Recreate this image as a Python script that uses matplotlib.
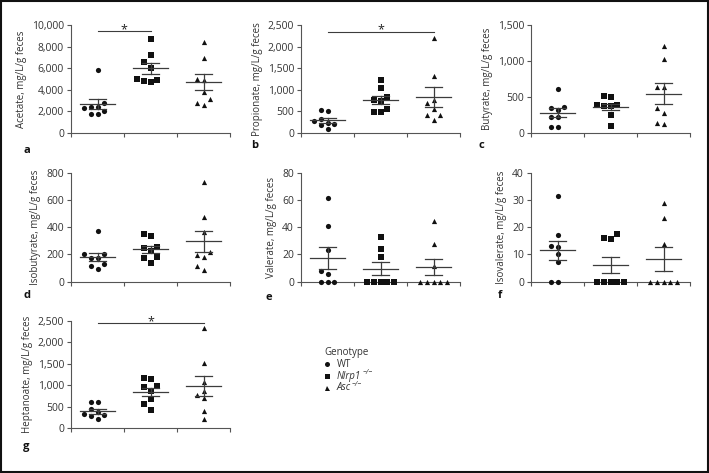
import numpy as np
import matplotlib
matplotlib.use("Agg")
import matplotlib.pyplot as plt
from matplotlib.lines import Line2D
from matplotlib.patches import Rectangle
from matplotlib.ticker import FuncFormatter, MultipleLocator

plt.rcParams['font.family'] = ['Open Sans', 'DejaVu Sans']
plt.rcParams['font.size'] = 7

# values, order: WT, Nlrp1-/-, Asc-/-
acetate = [[5800, 2450, 2400, 2740, 2280, 2030, 1750, 1750],
           [8740, 7230, 6550, 6000, 4890, 4740, 4800, 5015],
           [8400, 6950, 4900, 5000, 3800, 3150, 2600, 2750]]
propionate = [[515, 540, 330, 270, 230, 200, 180, 90],
              [1230, 1040, 770, 830, 750, 555, 477, 477],
              [2210, 1310, 770, 690, 420, 420, 290, 560]]
butyrate = [[609, 360, 323, 341, 221, 221, 88, 88],
            [508, 494, 388, 378, 378, 392, 254, 102],
            [1209, 1034, 632, 632, 346, 272, 125, 138]]
isobutyrate = [[374, 203, 200, 171, 171, 127, 117, 90],
               [350, 333, 249, 252, 222, 183, 174, 139],
               [729, 474, 364, 193, 183, 218, 117, 86]]
valerate = [[61.3, 40.4, 22.9, 7.6, 5.7, 0, 0, 0],
            [32.8, 23.6, 18.2, 0, 0, 0, 0, 0],
            [44.6, 27.8, 11.6, 0, 0, 0, 0, 0]]
isovalerate = [[31.3, 17.1, 13.0, 12.7, 10.2, 7.3, 0, 0],
               [16.0, 15.6, 17.5, 0, 0, 0, 0, 0],
               [28.7, 23.4, 13.9, 0, 0, 0, 0, 0]]
heptanoate = [[604, 619, 441, 364, 333, 294, 271, 209],
              [1176, 1138, 975, 952, 875, 689, 550, 426],
              [2337, 1517, 1076, 875, 774, 704, 395, 217]]

# legend: base name, italic?, superscript
genotypes = [('WT', False, ''), ('Nlrp1', True, '\u2212/\u2212'), ('Asc', True, '\u2212/\u2212')]
markers = ['o', 's', '^']

# (letter, label, data, ymax, tick step, significance bar (from, to, y))
panels = [
    ('a', 'Acetate, mg/L/g feces', acetate, 10000, 2000, (0, 1, 9400)),
    ('b', 'Propionate, mg/L/g feces', propionate, 2500, 500, (0, 2, 2346)),
    ('c', 'Butyrate, mg/L/g feces', butyrate, 1500, 500, None),
    ('d', 'Isobutyrate, mg/L/g feces', isobutyrate, 800, 200, None),
    ('e', 'Valerate, mg/L/g feces', valerate, 80, 20, None),
    ('f', 'Isovalerate, mg/L/g feces', isovalerate, 40, 10, None),
    ('g', 'Heptanoate, mg/L/g feces', heptanoate, 2500, 500, (0, 2, 2450)),
]

W, H = 709, 473
lefts = [71, 301, 531]
rows = [(25, 133), (172.5, 281.5), (321, 428)]
letter_pos = [(23, 150), (251, 146), (479, 145), (23, 296), (266, 297), (498, 295), (23, 446)]


def swarm(vals, ymax, step=0.123, wpx=53.0, hpx=108.0, d=6.0):
    vals = np.asarray(vals, float)
    offs = np.zeros(len(vals))
    cands = [0.0]
    for k in range(1, 6):
        cands += [-k * step, k * step]
    placed = []
    for i in np.argsort(vals):
        y = vals[i] / ymax * hpx
        for c in cands:
            if all(np.hypot((c - px) * wpx, y - py) >= d for px, py in placed):
                offs[i] = c
                placed.append((c, y))
                break
    return offs


fig = plt.figure(figsize=(W / 100, H / 100), dpi=100)
fmt = FuncFormatter(lambda v, p: f'{v:,.0f}')
lc = '#3c3c3c'

for n, (letter, label, data, ymax, step, sig) in enumerate(panels):
    top, bot = rows[n // 3]
    left = lefts[n % 3]
    ax = fig.add_axes([left / W, 1 - bot / H, 159 / W, (bot - top) / H])
    for g, vals in enumerate(data):
        x0 = g + 0.5
        xs = x0 + swarm(vals, ymax)
        ax.scatter(xs, vals, marker=markers[g], s=14, color='#111111',
                   linewidths=0, zorder=3, clip_on=False)
        m = np.mean(vals)
        se = np.std(vals, ddof=1) / np.sqrt(len(vals))
        ax.plot([x0 - 0.33, x0 + 0.33], [m, m], color=lc, lw=0.9, zorder=4)
        ax.plot([x0, x0], [m - se, m + se], color=lc, lw=0.9, zorder=4)
        for yy in (m - se, m + se):
            ax.plot([x0 - 0.165, x0 + 0.165], [yy, yy], color=lc, lw=0.9, zorder=4)
    if sig:
        a, b, yb = sig
        ax.plot([a + 0.5, b + 0.5], [yb, yb], color=lc, lw=0.8, clip_on=False)
        ax.annotate('*', xy=((a + b) / 2 + 0.5, yb), xytext=(0, -3.5),
                    textcoords='offset points', ha='center', va='bottom',
                    fontsize=9, color='#222222', annotation_clip=False)
    ax.set_xlim(0, 3)
    ax.set_ylim(0, ymax)
    ax.set_xticks([0, 1, 2, 3])
    ax.set_xticklabels([])
    ax.yaxis.set_major_locator(MultipleLocator(step))
    ax.yaxis.set_major_formatter(fmt)
    for s in ['top', 'right']:
        ax.spines[s].set_visible(False)
    for s in ['left', 'bottom']:
        ax.spines[s].set_color('#555555')
        ax.spines[s].set_linewidth(0.8)
    ax.tick_params(direction='out', length=3, width=0.8, color='#555555',
                   labelsize=7.5, labelcolor='#333333', pad=2)
    ax.set_ylabel(label, fontsize=7, color='#333333', labelpad=3.5)
    lx, ly = letter_pos[n]
    fig.text(lx / W, 1 - ly / H, letter, fontsize=8, fontweight='bold',
             ha='left', va='center', color='#111111')

# legend drawn by hand to keep the rows tight
fig.text(324 / W, 1 - 352 / H, 'Genotype', fontsize=7, color='#333333',
         ha='left', va='center')
renderer = fig.canvas.get_renderer()
for k, (mk, (name, ital, sup)) in enumerate(zip(markers, genotypes)):
    yy = 1 - (364 + 12 * k) / H
    fig.add_artist(Line2D([327 / W], [yy], transform=fig.transFigure, marker=mk,
                          ls='', color='#111111', markersize=3.6, markeredgewidth=0))
    t = fig.text(337 / W, yy, name, fontsize=7, color='#333333', ha='left',
                 va='center', style='italic' if ital else 'normal')
    if sup:
        bb = t.get_window_extent(renderer)
        fig.text((bb.x1 + 0.8) / W, yy + 3.2 / H, sup, fontsize=5, color='#333333',
                 ha='left', va='center', style='italic')

fig.patches.append(Rectangle((0.0015, 0.003), 0.997, 0.994, transform=fig.transFigure,
                             fill=False, edgecolor='#111111', lw=1.5))

fig.savefig('out.png', dpi=100)
